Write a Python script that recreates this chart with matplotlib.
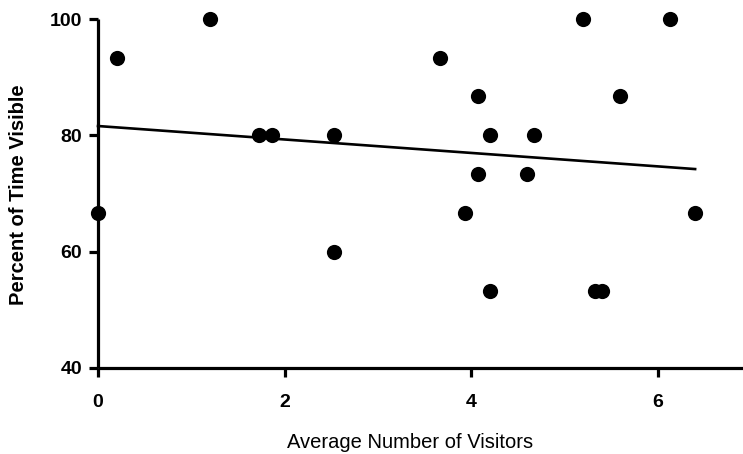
import numpy as np
import matplotlib
matplotlib.use("Agg")
import matplotlib.pyplot as plt

visitors = [0.0, 0.20, 1.20, 1.73, 1.87, 2.53, 2.53, 3.67, 4.07, 4.20, 4.67,
            4.07, 4.60, 3.93, 6.40, 4.20, 5.33, 5.40, 5.20, 5.60, 6.13]
pct_visible = [66.7, 93.3, 100.0, 80.0, 80.0, 80.0, 60.0, 93.3, 86.7, 80.0, 80.0,
               73.3, 73.3, 66.7, 66.7, 53.3, 53.3, 53.3, 100.0, 86.7, 100.0]
fit_x = [0.0, 6.40]
fit_y = [81.6, 74.2]
x_ticks = [0, 2, 4, 6]
y_ticks = [40, 60, 80, 100]

plt.rcParams['font.family'] = ['Liberation Sans', 'DejaVu Sans']

fig = plt.figure(figsize=(7.43, 4.54), dpi=100)
ax = fig.add_axes([98/743, 1 - 368/454, 1 - 98/743, (368 - 19)/454])

ax.scatter(visitors, pct_visible, s=120, color='black', zorder=3, clip_on=False, linewidths=0)
ax.plot(fit_x, fit_y, color='black', lw=1.9, zorder=2, clip_on=False)

ax.set_xlim(0, 645/93.3)
ax.set_ylim(40, 100)
ax.set_xticks(x_ticks)
ax.set_yticks(y_ticks)
ax.set_xticklabels([str(t) for t in x_ticks])
ax.set_yticklabels([str(t) for t in y_ticks])

for s in ['top', 'right']:
    ax.spines[s].set_visible(False)
for s in ['left', 'bottom']:
    ax.spines[s].set_linewidth(2.3)
    ax.spines[s].set_capstyle('butt')

ax.tick_params(axis='both', length=6.5, width=2.3, color='black', labelsize=14)
ax.tick_params(axis='x', pad=12)
ax.tick_params(axis='y', pad=5)
for lbl in ax.get_xticklabels() + ax.get_yticklabels():
    lbl.set_fontweight('bold')

ax.set_ylabel('Percent of Time Visible', fontsize=14.5, fontweight='bold')
ax.yaxis.set_label_coords(-0.108, 0.496)
ax.set_xlabel('Average Number of Visitors', fontsize=14.5)
ax.xaxis.set_label_coords(0.484, -0.186)

fig.savefig('out.png', dpi=100)
